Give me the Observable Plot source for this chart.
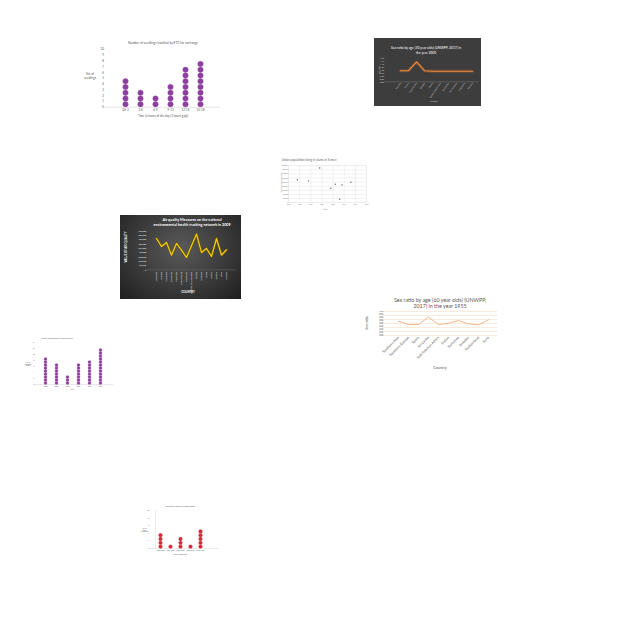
<!DOCTYPE html>
<html>
<head>
<meta charset="utf-8">
<script src="https://cdn.jsdelivr.net/npm/d3@7"></script>
<script src="https://cdn.jsdelivr.net/npm/@observablehq/plot@0.6"></script>
<style>
  html, body { margin: 0; padding: 0; background: #fff; }
  #root { position: relative; width: 640px; height: 640px; overflow: hidden; background: #fff; font-family: Lato, "Liberation Sans", sans-serif; }
  #root > div { position: absolute; }
  #root svg { overflow: visible; }
</style>
</head>
<body>
<div id="root"></div>
<script>
// ---------- DATA ----------
const c1Cats = ["00-3", "3-6", "6-9", "9-12", "12-15", "15-18"];
const c1Vals = [5, 3, 2, 4, 7, 8];

const c2Cats = ["Rwanda", "Samoa", "Saudi Arabia", "Senegal", "Serbia", "South-Eastern Asia", "Seychelles", "Sierra Leone", "Singapore", "Slovakia"];
const c2Vals = [0.99, 0.99, 1.14, 0.99, 0.98, 0.98, 0.98, 0.98, 0.98, 0.98];

const c3Years = [1989, 1994, 1999, 2004, 2006, 2008, 2009, 2013];
const c3Vals = [1116000, 1062000, 1692000, 702000, 900000, 162000, 864000, 990000];

const c4Cats = ["Alabama", "Arizona", "Arkansas", "California", "Colorado", "Connecticut", "Delaware", "District of Columbia", "Florida", "Georgia", "Idaho", "Illinois", "Indiana", "Iowa", "Kansas"];
const c4Vals = [72300, 53800, 63100, 33800, 60800, 45400, 28500, 55400, 82300, 40000, 49200, 30800, 72300, 33800, 46200];

const c5Cats = ["Southern Asia", "Southern Europe", "Spain", "Sri Lanka", "Sub-Saharan Africa", "Sudan", "Suriname", "Sweden", "Switzerland", "Syria"];
const c5Vals = [0.839, 0.783, 0.783, 0.906, 0.783, 0.806, 0.85, 0.794, 0.778, 0.861];

const c6Cats = ["2008", "2009", "2010", "2011", "2012", "2013"];
const c6Vals = [9, 7, 3, 7, 8, 12];

const c7Cats = ["2001-2003", "2004-2006", "2007-2009", "2010-2012", "2013-2015"];
const c7Vals = [4, 1, 3, 1, 5];

// ---------- HELPERS ----------
const root = document.getElementById("root");
function put(node, left, top) {
  const d = document.createElement("div");
  d.style.left = left + "px";
  d.style.top = top + "px";
  d.appendChild(node);
  root.appendChild(d);
  return d;
}
function stack(cats, vals) {
  return cats.flatMap((c, i) => d3.range(vals[i]).map(k => ({cat: c, y: k + 0.5})));
}
const FONT = "Lato, 'Liberation Sans', sans-serif";

// ---------- CHART 1 : purple dot plot ----------
put(Plot.plot({
  width: 145, height: 80,
  marginLeft: 25, marginRight: 5, marginTop: 11, marginBottom: 11.3,
  style: {fontSize: "3px", fontFamily: FONT, color: "#595959", background: "transparent", overflow: "visible"},
  x: {type: "point", domain: c1Cats, range: [34.3, 130], label: null, tickSize: 0, tickPadding: 2},
  y: {domain: [0, 10], range: [68.7, 11], ticks: d3.range(0, 11), label: null, tickSize: 0, tickPadding: 1.5},
  marks: [
    Plot.ruleY([0], {stroke: "#c8c8c8", strokeWidth: 0.5}),
    Plot.dot(stack(c1Cats, c1Vals), {x: "cat", y: "y", r: 2.75, fill: "#8b3f9d", stroke: "#a25bb3", strokeWidth: 0.4})
  ]
}), 80, 38);

// ---------- CHART 2 : dark box line ----------
put(Plot.plot({
  width: 107, height: 68,
  marginLeft: 10, marginRight: 2, marginTop: 20, marginBottom: 24.7,
  style: {fontSize: "2.2px", fontFamily: FONT, color: "#cfcfcf", background: "#3d3d3d", overflow: "hidden"},
  x: {type: "point", domain: c2Cats, range: [19.7, 104], label: null, tickSize: 0, tickPadding: 1, tickRotate: -55},
  y: {domain: [0.8, 1.2], range: [43.3, 20], ticks: d3.range(0.8, 1.201, 0.05), tickFormat: d3.format(".2f"), label: null, tickSize: 0, tickPadding: 0.5},
  marks: [
    Plot.ruleY([0.8], {stroke: "#7a7a7a", strokeWidth: 0.5}),
    Plot.line(c2Cats.map((c, i) => ({c, v: c2Vals[i]})), {x: "c", y: "v", stroke: "#ed7d31", strokeWidth: 3, strokeOpacity: 0.25}),
    Plot.line(c2Cats.map((c, i) => ({c, v: c2Vals[i]})), {x: "c", y: "v", stroke: "#f08a3c", strokeWidth: 1.1})
  ]
}), 374, 38);

// ---------- CHART 3 : scatter ----------
put(Plot.plot({
  width: 91, height: 58,
  marginLeft: 10, marginRight: 3, marginTop: 9.3, marginBottom: 12,
  style: {fontSize: "1.6px", fontFamily: FONT, color: "#8a8a8a", background: "transparent", overflow: "visible"},
  x: {domain: [1985, 2020], ticks: d3.range(1985, 2021, 5), tickFormat: d => String(d), label: null, tickSize: 0, tickPadding: 1.5, grid: true},
  y: {domain: [0, 1800000], ticks: d3.range(0, 1800001, 200000), tickFormat: d => String(d), label: null, tickSize: 0, tickPadding: 0.6, grid: true},
  marks: [
    Plot.frame({stroke: "#e0e0e0", strokeWidth: 0.4}),
    Plot.dot(c3Years.map((y, i) => ({y, v: c3Vals[i]})), {x: "y", y: "v", r: 0.7, fill: "#666"})
  ]
}), 278, 156);

// ---------- CHART 4 : dark gradient yellow line ----------
const c4Data = c4Cats.map((c, i) => ({c, v: c4Vals[i]}));
put(Plot.plot({
  width: 121, height: 84,
  marginLeft: 27.3, marginRight: 5, marginTop: 15.3, marginBottom: 29.7,
  style: {fontSize: "2.5px", fontFamily: FONT, color: "#e8e8e8", background: "radial-gradient(ellipse at 50% 40%, #5a5a5a 0%, #3a3a3a 55%, #1e1e1e 100%)", overflow: "hidden"},
  x: {type: "point", domain: c4Cats, range: [28, 114.7], label: null, tickSize: 0, tickPadding: 2, tickRotate: -90},
  y: {domain: [0, 90000], ticks: d3.range(0, 90001, 10000), label: null, tickSize: 0, tickPadding: 1.5},
  marks: [
    Plot.ruleY([0], {stroke: "#777", strokeWidth: 0.4}),
    Plot.line(c4Data, {x: "c", y: "v", stroke: "#6b5600", strokeWidth: 2.4}),
    Plot.line(c4Data, {x: "c", y: "v", stroke: "#f2cd1a", strokeWidth: 1.2})
  ]
}), 120, 215);

// ---------- CHART 5 : light line ----------
put(Plot.plot({
  width: 145, height: 85,
  marginLeft: 23.3, marginRight: 8, marginTop: 21, marginBottom: 40,
  style: {fontSize: "3.6px", fontFamily: FONT, color: "#595959", background: "transparent", overflow: "visible"},
  x: {type: "point", domain: c5Cats, range: [31.7, 133.3], label: null, tickSize: 0, tickPadding: 1.5, tickRotate: -45},
  y: {domain: [0.6, 1.0], range: [45, 21], label: null},
  marks: [
    Plot.gridY(d3.range(0.6, 1.001, 0.0667), {stroke: "#f6c9a6", strokeOpacity: 1, strokeWidth: 0.4}),
    Plot.axisY(d3.range(0.6, 1.001, 0.025), {tickSize: 0, tickPadding: 0.5, fontSize: "1.6px", tickFormat: d3.format(".3f"), label: null}),
    Plot.line(c5Cats.map((c, i) => ({c, v: c5Vals[i]})), {x: "c", y: "v", stroke: "#f2a774", strokeWidth: 0.8})
  ]
}), 360, 290);

// ---------- CHART 6 : small purple dot plot ----------
put(Plot.plot({
  width: 90, height: 60,
  marginLeft: 10, marginRight: 2, marginTop: 10, marginBottom: 8,
  style: {fontSize: "1.6px", fontFamily: FONT, color: "#595959", background: "transparent", overflow: "visible"},
  x: {type: "point", domain: c6Cats, range: [13.3, 81.3], label: null, tickSize: 0, tickPadding: 1.2},
  y: {domain: [0, 14], range: [52, 10], ticks: d3.range(0, 15, 2), label: null, tickSize: 0, tickPadding: 1},
  marks: [
    Plot.ruleY([0], {stroke: "#c8c8c8", strokeWidth: 0.4}),
    Plot.dot(stack(c6Cats, c6Vals), {x: "cat", y: "y", r: 1.55, fill: "#8b3f9d", stroke: "#a25bb3", strokeWidth: 0.3})
  ]
}), 25, 332);

// ---------- CHART 7 : small red dot plot ----------
put(Plot.plot({
  width: 80, height: 58,
  marginLeft: 11.7, marginRight: 0, marginTop: 10, marginBottom: 10,
  style: {fontSize: "1.6px", fontFamily: FONT, color: "#595959", background: "transparent", overflow: "visible"},
  x: {type: "point", domain: c7Cats, range: [16.7, 66.7], label: null, tickSize: 0, tickPadding: 1.5},
  y: {domain: [0, 10], range: [48, 10], ticks: d3.range(0, 11, 2), label: null, tickSize: 0, tickPadding: 1},
  marks: [
    Plot.ruleY([0], {stroke: "#c8c8c8", strokeWidth: 0.4}),
    Plot.ruleX([c7Cats[0]], {dx: -5, y1: 0, y2: 10, stroke: "#d0d0d0", strokeWidth: 0.4}),
    Plot.dot(stack(c7Cats, c7Vals), {x: "cat", y: "y", r: 1.9, fill: "#d12a3a", stroke: "#e0505d", strokeWidth: 0.3})
  ]
}), 138, 500);

// ---------- TEXT OVERLAY (titles and axis titles) ----------
const svg = d3.create("svg").attr("width", 640).attr("height", 640)
  .style("position", "absolute").style("left", 0).style("top", 0).style("pointer-events", "none")
  .attr("font-family", FONT);
function txt(lines, x, y, size, color, opts = {}) {
  const arr = Array.isArray(lines) ? lines : [lines];
  const lh = opts.lh || size * 1.15;
  const g = svg.append("g").attr("transform", `translate(${x},${y}) rotate(${opts.rotate || 0})`);
  const t = g.append("text").attr("text-anchor", "middle").attr("font-size", size).attr("fill", color)
    .attr("font-weight", opts.weight || "normal");
  const y0 = -(arr.length - 1) * lh / 2;
  arr.forEach((s, i) => t.append("tspan").attr("x", 0).attr("y", y0 + i * lh).attr("dy", "0.35em").text(s));
}
// chart 1
txt("Number of seedlings handled by ETC for exchange", 163, 42.5, 3.2, "#595959");
txt(["No. of", "seedlings"], 90, 76, 3, "#595959");
txt("Time (x hours of the day (3 hours gap))", 163, 116, 3, "#595959");
// chart 2
txt(["Sex ratio by age (30 year olds) (UNWPP, 2017) in", "the year 2000"], 426, 50.3, 3.3, "#ffffff", {lh: 4.7});
txt("Sex ratio", 379, 70, 2.2, "#cfcfcf", {rotate: -90});
txt("Country", 434, 101.3, 2.2, "#cfcfcf");
// chart 3
txt("Urban population living in slums in Yemen", 309, 160, 3, "#666");
txt("Years", 325, 209, 2.2, "#888");
txt("Urban population (in slums)", 281.5, 183, 1.7, "#888", {rotate: -90});
// chart 4
txt(["Air quality Measures on the national", "environmental health tracking network in 2009"], 192, 221.8, 3.7, "#ffffff", {weight: "bold", lh: 5});
txt("COUNTRY", 188, 292, 2.8, "#ffffff", {weight: "bold"});
txt("VALUE OF AIR QUALITY", 125.7, 247, 2.8, "#ffffff", {weight: "bold", rotate: -90});
// chart 5
txt(["Sex ratio by age (60 year olds) (UNWPP,", "2017) in the year 1955"], 440, 302.8, 5.3, "#595959", {lh: 5.7});
txt("Country", 440, 368, 3.8, "#595959");
txt("Sex ratio", 367, 323, 3.5, "#595959", {rotate: -90});
// chart 6
txt("College Hospital Sokoto & Medical University", 57, 338, 1.6, "#595959");
txt("Year", 72, 389, 1.8, "#595959");
txt(["No. of", "students", "(intake)"], 28, 364, 1.6, "#595959");
// chart 7
txt("Gas quality filters in United States", 180, 506, 2, "#595959");
txt("Years (in intervals)", 180, 554, 1.8, "#595959");
txt(["No. of", "filters", "(in millions)"], 144.5, 530, 1.6, "#595959");

root.appendChild(svg.node());
</script>
</body>
</html>
